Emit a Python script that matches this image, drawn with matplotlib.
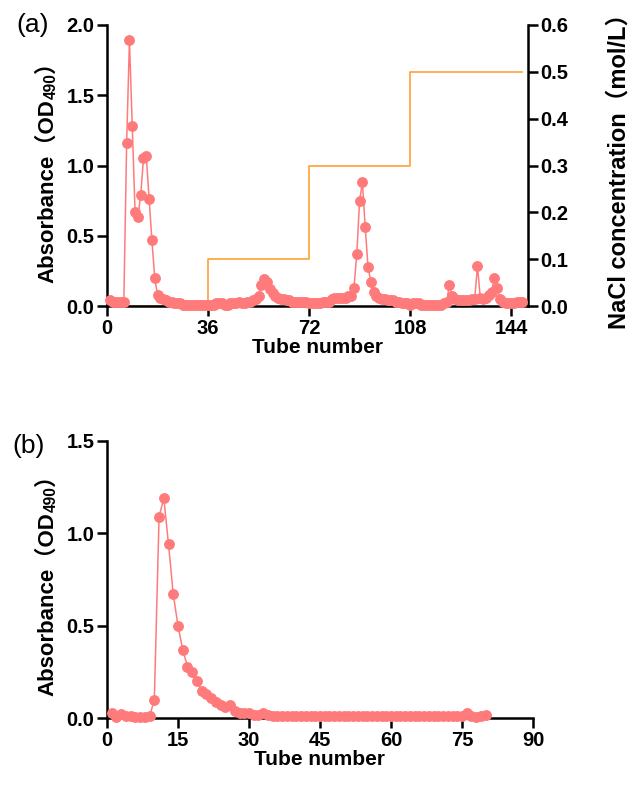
import numpy as np
import matplotlib
matplotlib.use("Agg")
import matplotlib.pyplot as plt

# ---------------- data ----------------
tubes_a = list(range(1, 149))
abs_a = [0.04, 0.03, 0.03, 0.03, 0.03, 0.03,            # 1-6
         1.16, 1.89, 1.28, 0.67, 0.63, 0.79, 1.05, 1.07,  # 7-14
         0.76, 0.47, 0.20, 0.08, 0.06, 0.05, 0.04, 0.03,  # 15-22
         0.03, 0.02, 0.02, 0.02, 0.01, 0.01, 0.01, 0.01,  # 23-30
         0.01, 0.01, 0.01, 0.01, 0.01,                    # 31-35
         0.01, 0.01, 0.01, 0.02, 0.02, 0.02, 0.01, 0.01,  # 36-43
         0.02, 0.02, 0.02, 0.03, 0.02, 0.02, 0.03, 0.03,  # 44-51
         0.04, 0.05, 0.07, 0.15, 0.19, 0.17, 0.12, 0.09,  # 52-59
         0.07, 0.06, 0.05, 0.05, 0.04, 0.04, 0.03, 0.03,  # 60-67
         0.03, 0.03, 0.03, 0.03, 0.02, 0.02, 0.02, 0.02,  # 68-75
         0.02, 0.03, 0.03, 0.03, 0.05, 0.06, 0.06, 0.06,  # 76-83
         0.06, 0.06, 0.07, 0.07, 0.13, 0.37, 0.75, 0.88,  # 84-91
         0.56, 0.28, 0.17, 0.10, 0.07, 0.06, 0.05, 0.05,  # 92-99
         0.04, 0.04, 0.04, 0.03, 0.03, 0.02, 0.02, 0.02,  # 100-107
         0.01, 0.02, 0.02, 0.02, 0.01, 0.01, 0.01, 0.01,  # 108-115
         0.01, 0.01, 0.01, 0.01, 0.02, 0.03, 0.15, 0.07,  # 116-123
         0.05, 0.04, 0.04, 0.04, 0.04, 0.04, 0.05, 0.05,  # 124-131
         0.285, 0.06, 0.05, 0.06, 0.08, 0.10, 0.20, 0.13, # 132-139
         0.05, 0.03, 0.02, 0.02, 0.02, 0.02, 0.03, 0.03,  # 140-147
         0.03]                                            # 148

nacl_tube = [0, 36, 36, 72, 72, 108, 108, 148]
nacl_conc = [0.0, 0.0, 0.1, 0.1, 0.3, 0.3, 0.5, 0.5]

tubes_b = list(range(1, 81))
abs_b = [0.03, 0.005, 0.025, 0.01, 0.01, 0.005, 0.005, 0.005, 0.01, 0.10,  # 1-10
         1.09, 1.19, 0.94, 0.67, 0.50, 0.37, 0.28, 0.25, 0.20, 0.15,       # 11-20
         0.13, 0.11, 0.09, 0.07, 0.06, 0.07, 0.04, 0.03, 0.03, 0.03,       # 21-30
         0.02, 0.02, 0.03, 0.02, 0.01, 0.01, 0.01, 0.01, 0.01, 0.01,       # 31-40
         0.01, 0.01, 0.01, 0.01, 0.01, 0.01, 0.01, 0.01, 0.01, 0.01,       # 41-50
         0.01, 0.01, 0.01, 0.01, 0.01, 0.01, 0.01, 0.01, 0.01, 0.01,       # 51-60
         0.01, 0.01, 0.01, 0.01, 0.01, 0.01, 0.01, 0.01, 0.01, 0.01,       # 61-70
         0.01, 0.01, 0.01, 0.01, 0.01, 0.03, 0.01, 0.005, 0.015, 0.02]     # 71-80

xticks_a = [0, 36, 72, 108, 144]
yticks_a = [0.0, 0.5, 1.0, 1.5, 2.0]
yticks_nacl = [0.0, 0.1, 0.2, 0.3, 0.4, 0.5, 0.6]
xticks_b = [0, 15, 30, 45, 60, 75, 90]
yticks_b = [0.0, 0.5, 1.0, 1.5]

# ---------------- style ----------------
FAM = ['Liberation Sans', 'Noto Sans CJK SC', 'DejaVu Sans']
plt.rcParams['font.family'] = FAM
plt.rcParams['font.weight'] = 'bold'
plt.rcParams['axes.linewidth'] = 1.8
pink = '#FF7B7B'
orange = '#FFA033'
LW = 1.8
TICK_FS = 14.5
LAB_FS = 15
YLAB_FS = 16

W_PX, H_PX = 632, 793
fig = plt.figure(figsize=(6.32, 7.93), dpi=100)


def style(ax, spines_on):
    for s in ['top', 'right', 'left', 'bottom']:
        ax.spines[s].set_visible(s in spines_on)
        ax.spines[s].set_linewidth(LW)
    ax.tick_params(direction='out', length=7, width=LW, labelsize=TICK_FS, pad=2)
    for lab in ax.get_xticklabels() + ax.get_yticklabels():
        lab.set_fontweight('bold')


def vlabel(x_px, yc_px, pieces):
    """Rotated (bottom-to-top) label made of pieces (text, size, shift_px).
    x_px: baseline position from left (pixels); yc_px: centre from top."""
    r = fig.canvas.get_renderer()
    objs, lens = [], []
    for txt, size, shift in pieces:
        t = fig.text(0, 0, txt, fontsize=size, fontweight='bold', rotation=90,
                     rotation_mode='anchor', ha='left', va='baseline', family=FAM)
        objs.append(t)
        lens.append(t.get_window_extent(r).height)
    y = (H_PX - yc_px) - sum(lens) / 2
    for t, L, (txt, size, shift) in zip(objs, lens, pieces):
        t.set_position(((x_px + shift) / W_PX, y / H_PX))
        y += L


def abs_label(x_px, yc_px):
    vlabel(x_px, yc_px, [('Absorbance（OD', YLAB_FS, 0),
                         ('490', YLAB_FS * 0.7, 2.5),
                         ('）', YLAB_FS, 0)])


# ---------------- panel (a) ----------------
axa = fig.add_axes([107/W_PX, 1-306/H_PX, (528-107)/W_PX, (306-25)/H_PX])
axa.plot(tubes_a, abs_a, '-', color=pink, lw=1.1, marker='o', ms=6.8,
         mec=pink, mfc=pink, zorder=3, clip_on=False)
axa.set_xlim(0, 150)
axa.set_ylim(0, 2.0)
axa.set_xticks(xticks_a)
axa.set_yticks(yticks_a)
axa.set_yticklabels([f'{v:.1f}' for v in yticks_a])
style(axa, ['left', 'bottom'])
axa.set_xlabel('Tube number', fontsize=LAB_FS, fontweight='bold', labelpad=0.5)

axr = axa.twinx()
axr.plot(nacl_tube, nacl_conc, '-', color=orange, lw=1.2, zorder=2)
axr.set_ylim(0, 0.6)
axr.set_yticks(yticks_nacl)
axr.set_yticklabels([f'{v:.1f}' for v in yticks_nacl])
style(axr, ['right'])
axa.set_zorder(axr.get_zorder() + 1)
axa.patch.set_visible(False)

fig.text(631/W_PX, 1-165/H_PX, 'NaCl concentration（mol/L）', fontsize=17,
         fontweight='bold', rotation=90, ha='right', va='center', family=FAM)

# ---------------- panel (b) ----------------
axb = fig.add_axes([107/W_PX, 1-718.3/H_PX, (533-107)/W_PX, (718.3-440.8)/H_PX])
axb.plot(tubes_b, abs_b, '-', color=pink, lw=1.1, marker='o', ms=6.8,
         mec=pink, mfc=pink, zorder=3, clip_on=False)
axb.set_xlim(0, 90)
axb.set_ylim(0, 1.5)
axb.set_xticks(xticks_b)
axb.set_yticks(yticks_b)
axb.set_yticklabels([f'{v:.1f}' for v in yticks_b])
style(axb, ['left', 'bottom'])
axb.set_xlabel('Tube number', fontsize=LAB_FS, fontweight='bold', labelpad=0.5)

abs_label(53, 167)
abs_label(53, 580)

fig.text(16/W_PX, 1-25/H_PX, '(a)', fontsize=19, fontweight='normal',
         va='center', ha='left')
fig.text(12/W_PX, 1-446/H_PX, '(b)', fontsize=19, fontweight='normal',
         va='center', ha='left')

fig.savefig('out.png', dpi=100)
